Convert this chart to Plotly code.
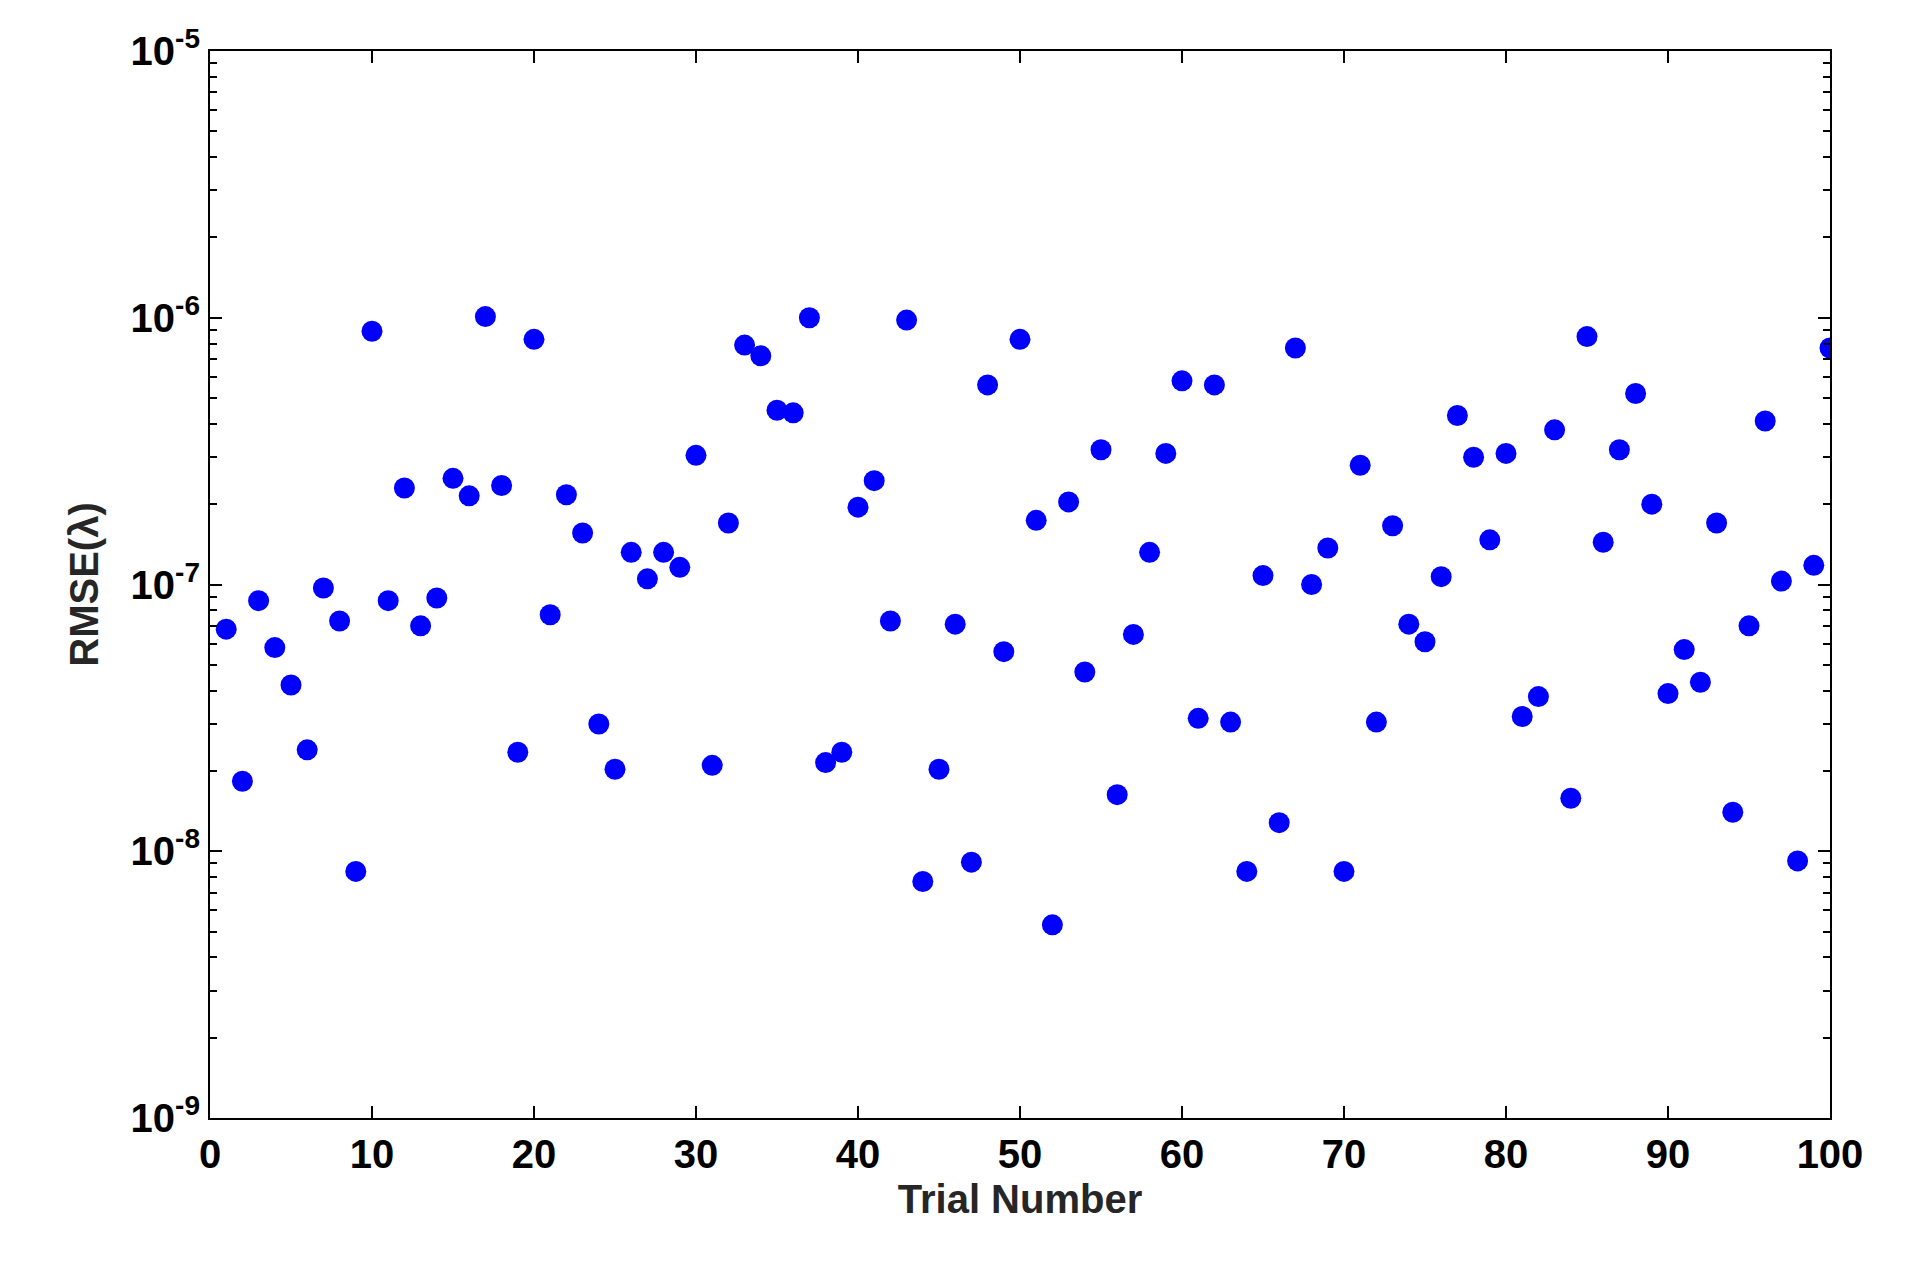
import plotly.graph_objects as go

trials = list(range(1, 101))
rmse = [
    6.8e-8, 1.83e-8, 8.7e-8, 5.8e-8, 4.2e-8, 2.4e-8, 9.7e-8, 7.3e-8, 8.4e-9, 8.9e-7,
    8.7e-8, 2.3e-7, 7.0e-8, 8.9e-8, 2.5e-7, 2.15e-7, 1.01e-6, 2.35e-7, 2.35e-8, 8.3e-7,
    7.7e-8, 2.17e-7, 1.56e-7, 3.0e-8, 2.03e-8, 1.32e-7, 1.05e-7, 1.32e-7, 1.16e-7, 3.05e-7,
    2.1e-8, 1.7e-7, 7.9e-7, 7.2e-7, 4.5e-7, 4.4e-7, 1.0e-6, 2.15e-8, 2.35e-8, 1.95e-7,
    2.45e-7, 7.3e-8, 9.8e-7, 7.7e-9, 2.03e-8, 7.1e-8, 9.1e-9, 5.6e-7, 5.6e-8, 8.3e-7,
    1.74e-7, 5.3e-9, 2.04e-7, 4.7e-8, 3.2e-7, 1.63e-8, 6.5e-8, 1.32e-7, 3.1e-7, 5.8e-7,
    3.15e-8, 5.6e-7, 3.05e-8, 8.4e-9, 1.08e-7, 1.28e-8, 7.7e-7, 1.0e-7, 1.37e-7, 8.4e-9,
    2.8e-7, 3.05e-8, 1.66e-7, 7.1e-8, 6.1e-8, 1.07e-7, 4.3e-7, 3.0e-7, 1.47e-7, 3.1e-7,
    3.2e-8, 3.8e-8, 3.8e-7, 1.58e-8, 8.5e-7, 1.44e-7, 3.2e-7, 5.2e-7, 2.0e-7, 3.9e-8,
    5.7e-8, 4.3e-8, 1.7e-7, 1.4e-8, 7.0e-8, 4.1e-7, 1.03e-7, 9.2e-9, 1.18e-7, 7.7e-7,
]
y_tickvals = [1e-9, 1e-8, 1e-7, 1e-6, 1e-5]
y_ticktext = ["10<sup>-9</sup>", "10<sup>-8</sup>", "10<sup>-7</sup>", "10<sup>-6</sup>", "10<sup>-5</sup>"]
x_tickvals = list(range(0, 101, 10))

font = dict(family="Liberation Sans, Arial", size=40, color="#262626")
tickfont = dict(family="Liberation Sans, Arial", size=40, color="black")

fig = go.Figure(go.Scatter(
    x=trials, y=rmse, mode="markers",
    marker=dict(size=21, color="#0000ff"),
))

axis_common = dict(
    showline=True, linecolor="black", linewidth=2, mirror="ticks",
    ticks="inside", ticklen=12, tickwidth=2, tickcolor="black",
    showgrid=False, zeroline=False, automargin=False,
)
fig.update_xaxes(
    range=[0, 100], tickvals=x_tickvals, ticktext=[f"<b>{v}</b>" for v in x_tickvals],
    title=dict(text="<b>Trial Number</b>", font=font, standoff=10),
    tickfont=tickfont,
    **axis_common,
)
fig.update_yaxes(
    type="log", range=[-9, -5], tickvals=y_tickvals, ticktext=[f"<b>{t}</b>" for t in y_ticktext],
    title=dict(text="<b>RMSE(λ)</b>", font=font, standoff=20),
    tickfont=tickfont,
    minor=dict(ticks="inside", ticklen=7, tickwidth=1.5, tickcolor="black", dtick="D1"),
    **axis_common,
)
fig.update_layout(
    width=1910, height=1280,
    plot_bgcolor="white", paper_bgcolor="white",
    margin=dict(l=202, r=88, t=43, b=170),
    showlegend=False,
    font=dict(family=font["family"]),
)
fig.write_html("out.html")
